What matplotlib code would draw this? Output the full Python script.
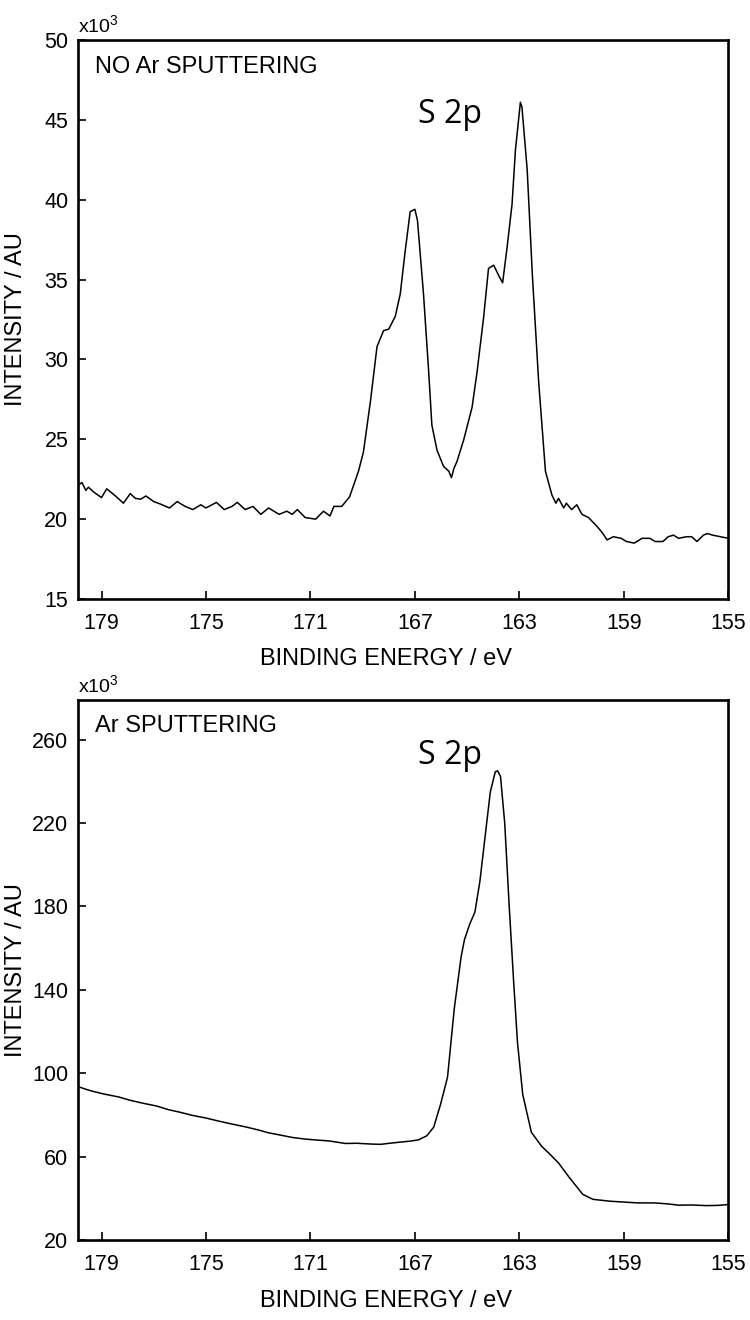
import matplotlib
matplotlib.use("Agg")
import matplotlib.pyplot as plt

plt.rcParams['font.family'] = ['Liberation Sans', 'DejaVu Sans']
plt.rcParams['mathtext.fontset'] = 'custom'
plt.rcParams['mathtext.rm'] = 'Liberation Sans'

# top panel: no Ar sputtering (intensity in 10^3 counts)
be_top = [179.9, 179.75, 179.6, 179.5, 179.3, 179.0, 178.8, 178.5, 178.16, 177.9,
          177.7, 177.5, 177.3, 177.0, 176.75, 176.4, 176.1, 175.8, 175.5, 175.2,
          175.0, 174.6, 174.3, 174.0, 173.8, 173.5, 173.2, 172.9, 172.6, 172.2,
          171.9, 171.7, 171.5, 171.2, 170.8, 170.5, 170.25, 170.1, 169.8, 169.5,
          169.16, 168.97, 168.7, 168.45, 168.2, 168.0, 167.75, 167.56, 167.37, 167.18,
          167.0, 166.9, 166.67, 166.47, 166.35, 166.15, 165.9, 165.7, 165.6, 165.5,
          165.39, 165.13, 164.81, 164.62, 164.37, 164.18, 163.98, 163.79, 163.64, 163.47,
          163.28, 163.15, 162.96, 162.9, 162.7, 162.5, 162.26, 162.0, 161.75, 161.6,
          161.5, 161.3, 161.2, 161.0, 160.8, 160.6, 160.35, 160.0, 159.8, 159.64,
          159.4, 159.1, 158.9, 158.6, 158.3, 158.0, 157.8, 157.5, 157.3, 157.1,
          156.9, 156.6, 156.4, 156.2, 155.95, 155.8, 155.6, 155.3, 155.0]
int_top = [22.1, 22.3, 21.8, 22.0, 21.7, 21.35, 21.9, 21.5, 21.0, 21.6,
           21.3, 21.25, 21.45, 21.1, 20.95, 20.7, 21.1, 20.8, 20.6, 20.9,
           20.7, 21.05, 20.6, 20.8, 21.05, 20.6, 20.8, 20.3, 20.7, 20.3,
           20.5, 20.3, 20.6, 20.1, 20.0, 20.5, 20.2, 20.8, 20.8, 21.4,
           23.0, 24.2, 27.4, 30.8, 31.8, 31.9, 32.7, 34.1, 36.8, 39.25,
           39.4, 38.7, 34.1, 29.2, 25.9, 24.3, 23.3, 23.0, 22.6, 23.2,
           23.6, 24.97, 27.0, 29.2, 32.6, 35.7, 35.9, 35.25, 34.8, 37.0,
           39.7, 43.1, 46.1, 45.8, 41.9, 35.25, 28.6, 23.0, 21.5, 21.0,
           21.3, 20.7, 21.0, 20.6, 20.9, 20.3, 20.1, 19.5, 19.1, 18.7,
           18.9, 18.8, 18.6, 18.5, 18.8, 18.8, 18.6, 18.6, 18.9, 19.0,
           18.8, 18.9, 18.9, 18.6, 19.0, 19.1, 19.0, 18.9, 18.8]

# bottom panel: Ar sputtering (intensity in 10^3 counts)
be_bot = [179.9, 179.6, 179.36, 178.9, 178.34, 177.9, 177.45, 176.9, 176.43, 176.0,
          175.53, 175.0, 174.5, 174.0, 173.5, 173.0, 172.6, 172.1, 171.7, 171.2,
          170.7, 170.28, 169.66, 169.23, 168.64, 168.3, 167.9, 167.52, 167.2, 166.87,
          166.54, 166.28, 166.02, 165.75, 165.49, 165.23, 165.1, 164.9, 164.7, 164.51,
          164.31, 164.11, 163.92, 163.83, 163.72, 163.56, 163.39, 163.22, 163.07, 162.87,
          162.54, 162.15, 161.8, 161.49, 161.1, 160.57, 160.18, 159.52, 159.0, 158.48,
          157.82, 157.3, 156.9, 156.4, 155.85, 155.4, 155.0]
int_bot = [93.6, 92.3, 91.4, 90.0, 88.6, 87.0, 85.7, 84.3, 82.5, 81.3,
           79.8, 78.5, 77.0, 75.6, 74.3, 72.8, 71.4, 70.2, 69.2, 68.4,
           67.9, 67.5, 66.3, 66.4, 66.0, 65.9, 66.5, 67.0, 67.4, 68.0,
           70.0, 74.1, 84.9, 98.1, 131.1, 155.8, 164.1, 171.5, 177.3, 192.1,
           213.6, 235.0, 244.6, 245.0, 242.3, 220.0, 180.6, 144.3, 114.6, 89.8,
           71.7, 65.0, 60.8, 56.8, 50.2, 41.9, 39.5, 38.6, 38.2, 37.8,
           37.8, 37.3, 36.7, 36.8, 36.5, 36.6, 37.0]

fig = plt.figure(figsize=(7.5, 13.2), dpi=100)
ax1 = fig.add_axes([0.104, 0.5462, 0.867, 0.4235])
ax2 = fig.add_axes([0.104, 0.0606, 0.867, 0.4091])

panels = [
    (ax1, be_top, int_top, (15, 50), range(15, 51, 5), "NO Ar SPUTTERING", 44.8, -0.088),
    (ax2, be_bot, int_bot, (20, 279), range(20, 261, 40), "Ar SPUTTERING", 248.5, -0.092),
]

for ax, x, y, ylim, yt, label, ys, xl in panels:
    ax.plot(x, y, color='black', lw=1.1)
    ax.set_xlim(179.9, 155)
    ax.set_ylim(*ylim)
    ax.set_xticks([179, 175, 171, 167, 163, 159, 155])
    ax.set_yticks(list(yt))
    ax.tick_params(direction='in', length=6, width=1.2, labelsize=15.5, pad=7,
                   top=False, right=False)
    ax.tick_params(axis='x', pad=10)
    for sp in ax.spines.values():
        sp.set_linewidth(1.9)
    ax.set_xlabel("BINDING ENERGY / eV", fontsize=17)
    ax.xaxis.set_label_coords(0.474, xl)
    ax.set_ylabel("INTENSITY / AU", fontsize=17)
    ax.yaxis.set_label_coords(-0.079, 0.5)
    ax.text(0.026, 0.972, label, transform=ax.transAxes, fontsize=17,
            va='top', ha='left')
    ax.text(0.0, 1.005, r'x10$^{3}$', transform=ax.transAxes, fontsize=14,
            va='bottom', ha='left')
    ax.text(165.65, ys, "S 2p", fontsize=23, family=['Open Sans', 'DejaVu Sans'],
            ha='center', va='baseline')

fig.savefig("out.png", dpi=100)
